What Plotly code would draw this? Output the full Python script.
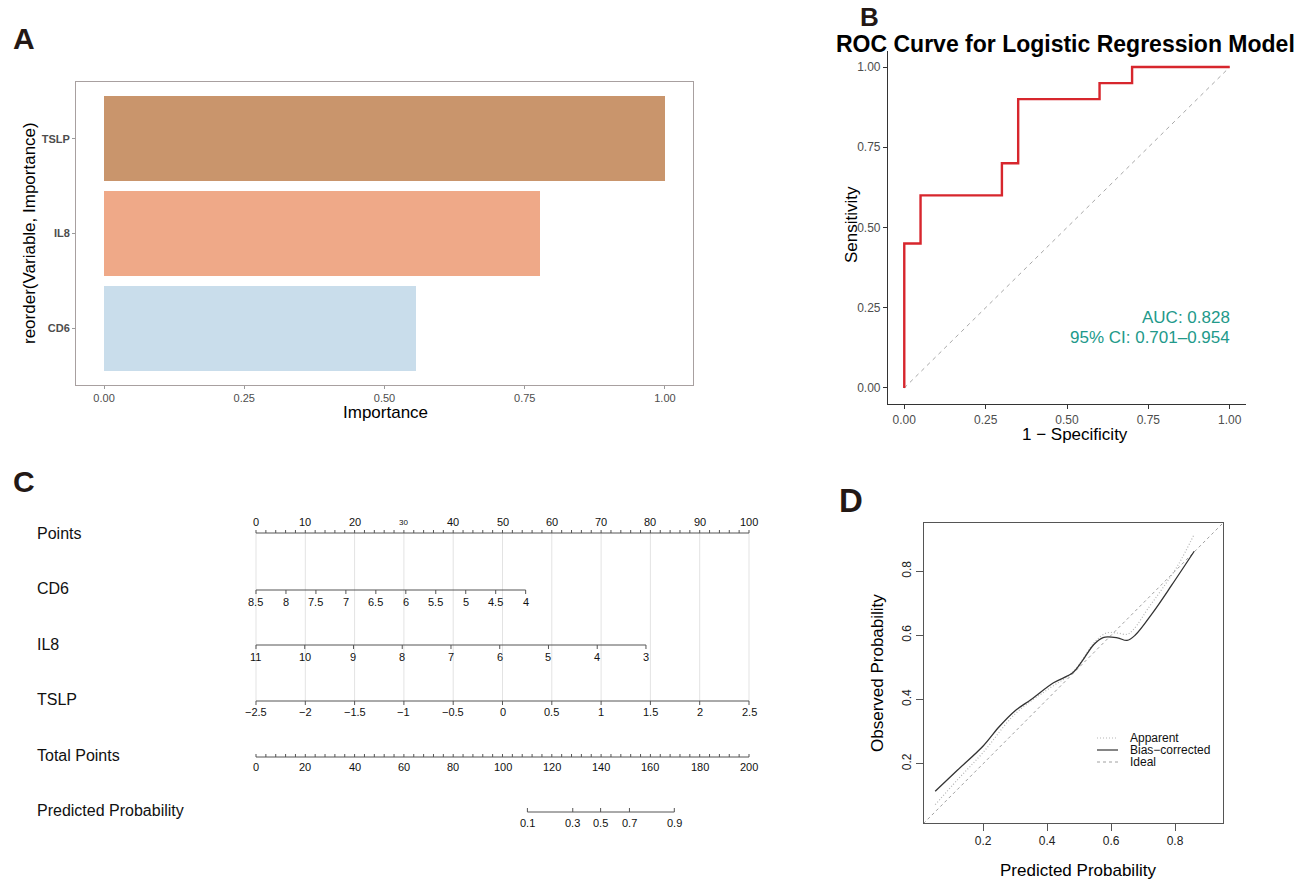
import plotly.graph_objects as go

W, H = 1304, 880
FONT = "Liberation Sans, Arial, Helvetica, sans-serif"


def px(x):
    return x / W


def py(y):
    return 1 - y / H


# ---------------- Panel A data ----------------
imp_vars = ["CD6", "IL8", "TSLP"]
imp_vals = [0.556, 0.778, 1.0]
imp_colors = ["#C9DDEB", "#EFA988", "#C9956C"]
imp_ticks = [0, 0.25, 0.5, 0.75, 1.0]
imp_ticktext = ["0.00", "0.25", "0.50", "0.75", "1.00"]

# ---------------- Panel B data ----------------
roc_fpr = [0, 0, 0.05, 0.30, 0.35, 0.60, 0.70, 1.0]
roc_tpr = [0, 0.45, 0.60, 0.70, 0.90, 0.95, 1.0, 1.0]
diag_x = [0, 1]
diag_y = [0, 1]
roc_ticks = [0, 0.25, 0.5, 0.75, 1.0]
roc_ticktext = ["0.00", "0.25", "0.50", "0.75", "1.00"]
auc_text = "AUC: 0.828"
ci_text = "95% CI: 0.701–0.954"

# ---------------- Panel C data (nomogram) ----------------
points_labels = [0, 10, 20, 30, 40, 50, 60, 70, 80, 90, 100]
points_minor = list(range(0, 101, 2))
cd6_vals = [8.5, 8, 7.5, 7, 6.5, 6, 5.5, 5, 4.5, 4]
cd6_max_points = 54.7
il8_vals = [11, 10, 9, 8, 7, 6, 5, 4, 3]
il8_max_points = 79.1
tslp_vals = [-2.5, -2, -1.5, -1, -0.5, 0, 0.5, 1, 1.5, 2, 2.5]
total_labels = [0, 20, 40, 60, 80, 100, 120, 140, 160, 180, 200]
total_minor = list(range(0, 201, 4))
prob_labels = [0.1, 0.3, 0.5, 0.7, 0.9]
prob_total_points = [110.1, 128.5, 139.8, 151.5, 169.7]
row_names = ["Points", "CD6", "IL8", "TSLP", "Total Points", "Predicted Probability"]

# ---------------- Panel D data (calibration) ----------------
app_x = [0.05, 0.12, 0.20, 0.30, 0.40, 0.48, 0.55, 0.585, 0.62, 0.65, 0.67, 0.72, 0.76, 0.81, 0.86]
app_y = [0.072, 0.15, 0.235, 0.355, 0.43, 0.485, 0.58, 0.607, 0.607, 0.603, 0.618, 0.69, 0.745, 0.82, 0.915]
bias_x = [0.05, 0.12, 0.20, 0.25, 0.30, 0.35, 0.42, 0.48, 0.51, 0.545, 0.575, 0.62, 0.65, 0.675, 0.73, 0.79, 0.86]
bias_y = [0.114, 0.18, 0.255, 0.315, 0.365, 0.40, 0.452, 0.483, 0.52, 0.57, 0.593, 0.592, 0.584, 0.60, 0.67, 0.757, 0.862]
ideal_x = [0, 1]
ideal_y = [0, 1]
cal_ticks = [0.2, 0.4, 0.6, 0.8]
legend_names = ["Apparent", "Bias−corrected", "Ideal"]

fig = go.Figure()
annotations = []
shapes = []

# ================= Panel A =================
fig.add_trace(go.Bar(
    y=imp_vars, x=imp_vals, orientation="h", width=0.9,
    marker=dict(color=imp_colors, line=dict(width=0)),
    xaxis="x", yaxis="y", showlegend=False, hoverinfo="skip"))

# ================= Panel B =================
fig.add_trace(go.Scatter(
    x=diag_x, y=diag_y, mode="lines",
    line=dict(color="#A8A8A8", width=1, dash="4px,4px"),
    xaxis="x2", yaxis="y2", showlegend=False, hoverinfo="skip"))
fig.add_trace(go.Scatter(
    x=roc_fpr, y=roc_tpr, mode="lines", line_shape="hv",
    line=dict(color="#D7262D", width=2.4),
    xaxis="x2", yaxis="y2", showlegend=False, hoverinfo="skip"))

# ================= Panel C (nomogram) =================
ROW_Y = {"Points": 533, "CD6": 590, "IL8": 645, "TSLP": 701, "Total Points": 757, "Predicted Probability": 812}
LABEL_Y = {"Points": 522, "CD6": 602, "IL8": 657, "TSLP": 712, "Total Points": 767, "Predicted Probability": 823}
TITLE_Y = {"Points": 533, "CD6": 588, "IL8": 644, "TSLP": 699, "Total Points": 755, "Predicted Probability": 810}


def fmt(v):
    s = f"{v:g}"
    return s.replace("-", "−")


# gridlines
gx, gy = [], []
for p in points_labels:
    gx += [p, p, None]
    gy += [ROW_Y["Points"], ROW_Y["TSLP"], None]
fig.add_trace(go.Scatter(x=gx, y=gy, mode="lines", line=dict(color="#E3E3E3", width=1),
                         xaxis="x3", yaxis="y3", showlegend=False, hoverinfo="skip"))


def add_row(name, pts, labels, tick_pts, tick_dir, tick_len, label_sizes=None):
    y0 = ROW_Y[name]
    lx = [min(tick_pts), max(tick_pts), None]
    ly = [y0, y0, None]
    for t in tick_pts:
        lx += [t, t, None]
        ly += [y0, y0 + tick_dir * tick_len, None]
    fig.add_trace(go.Scatter(x=lx, y=ly, mode="lines", line=dict(color="#555555", width=1),
                             xaxis="x3", yaxis="y3", showlegend=False, hoverinfo="skip"))
    for i, (p, lab) in enumerate(zip(pts, labels)):
        size = 11 if label_sizes is None else label_sizes[i]
        annotations.append(dict(x=p, y=LABEL_Y[name], xref="x3", yref="y3", text=lab,
                                showarrow=False, xanchor="center", yanchor="middle",
                                font=dict(family=FONT, size=size, color="#111111")))


# Points
add_row("Points", points_labels, [fmt(v) for v in points_labels], points_minor, -1, 3,
        label_sizes=[8 if v == 30 else 11 for v in points_labels])
# CD6
cd6_pts = [(cd6_vals[0] - v) / (cd6_vals[0] - cd6_vals[-1]) * cd6_max_points for v in cd6_vals]
add_row("CD6", cd6_pts, [fmt(v) for v in cd6_vals], cd6_pts, 1, 4)
# IL8
il8_pts = [(il8_vals[0] - v) / (il8_vals[0] - il8_vals[-1]) * il8_max_points for v in il8_vals]
add_row("IL8", il8_pts, [fmt(v) for v in il8_vals], il8_pts, 1, 4)
# TSLP
tslp_pts = [(v - tslp_vals[0]) / (tslp_vals[-1] - tslp_vals[0]) * 100 for v in tslp_vals]
add_row("TSLP", tslp_pts, [fmt(v) for v in tslp_vals], tslp_pts, 1, 4)
# Total points (0-200 drawn on the 0-100 points scale)
add_row("Total Points", [t / 2 for t in total_labels], [fmt(v) for v in total_labels],
        [t / 2 for t in total_minor], -1, 3)
# Predicted probability
prob_pts = [t / 2 for t in prob_total_points]
add_row("Predicted Probability", prob_pts, [fmt(v) for v in prob_labels], prob_pts, -1, 4)

for name in row_names:
    annotations.append(dict(x=px(35), y=py(TITLE_Y[name]), xref="paper", yref="paper", text=name,
                            showarrow=False, xanchor="left", yanchor="middle",
                            font=dict(family=FONT, size=16, color="#111111")))

# ================= Panel D =================
fig.add_trace(go.Scatter(x=ideal_x, y=ideal_y, mode="lines",
                         line=dict(color="#A0A0A0", width=1, dash="3px,3px"),
                         xaxis="x4", yaxis="y4", showlegend=False, hoverinfo="skip"))
fig.add_trace(go.Scatter(x=app_x, y=app_y, mode="lines", line_shape="spline",
                         line=dict(color="#B5B5B5", width=1.2, dash="1px,2px"),
                         xaxis="x4", yaxis="y4", showlegend=False, hoverinfo="skip"))
fig.add_trace(go.Scatter(x=bias_x, y=bias_y, mode="lines", line_shape="spline",
                         line=dict(color="#333333", width=1.3),
                         xaxis="x4", yaxis="y4", showlegend=False, hoverinfo="skip"))

# legend (manual)
leg_styles = [dict(color="#B5B5B5", width=1.2, dash="1px,2px"),
              dict(color="#333333", width=1.2),
              dict(color="#A0A0A0", width=1, dash="3px,3px")]
for i, (nm, st) in enumerate(zip(legend_names, leg_styles)):
    yy = 738 + 12 * i
    shapes.append(dict(type="line", xref="paper", yref="paper", x0=px(1097), x1=px(1118),
                       y0=py(yy), y1=py(yy), line=st))
    annotations.append(dict(x=px(1128), y=py(yy), xref="paper", yref="paper", text=nm,
                            showarrow=False, xanchor="left", yanchor="middle",
                            font=dict(family=FONT, size=12, color="#111111")))


# ================= Text annotations =================
def ann(x, y, text, size, angle=0, bold=False, color="#000000", xanchor="center"):
    annotations.append(dict(x=px(x), y=py(y), xref="paper", yref="paper", text=text,
                            showarrow=False, xanchor=xanchor, yanchor="middle", textangle=angle,
                            font=dict(family=FONT, size=size, color=color,
                                      weight="bold" if bold else "normal")))


# panel letters
ann(24, 38, "A", 30, bold=True, color="#231815")
ann(869, 17, "B", 26, bold=True, color="#231815")
ann(24, 481, "C", 30, bold=True, color="#231815")
ann(851, 500, "D", 33, bold=True, color="#231815")

# Panel A titles
ann(29, 233, "reorder(Variable, Importance)", 17, angle=-90)
ann(385, 413, "Importance", 17)
# Panel B titles
ann(1065, 44, "ROC Curve for Logistic Regression Model", 23, bold=True)
ann(852, 225, "Sensitivity", 17, angle=-90)
ann(1075, 434, "1 − Specificity", 17)
ann(1232, 317, auc_text, 17, color="#22998A", xanchor="right")
ann(1232, 338, ci_text, 17, color="#22998A", xanchor="right")
# Panel D titles
ann(877, 673, "Observed Probability", 17, angle=-90)
ann(1078, 870, "Predicted Probability", 17)

# ================= Layout =================
pC_left = 256 - 2 * 4.93
pC_right = 749 + 2 * 4.93

fig.update_layout(
    width=W, height=H, margin=dict(l=0, r=0, t=0, b=0),
    paper_bgcolor="white", plot_bgcolor="white",
    font=dict(family=FONT),
    bargap=0,
    annotations=annotations, shapes=shapes,
    # Panel A
    xaxis=dict(domain=[px(76), px(693)], anchor="y", range=[-0.05, 1.05],
               tickvals=imp_ticks, ticktext=imp_ticktext, ticks="outside", ticklen=3,
               tickcolor="#9A9A9A", showline=True, mirror=True, linecolor="#A8A0A0", linewidth=1,
               showgrid=False, zeroline=False, tickfont=dict(size=11, color="#4D4D4D")),
    yaxis=dict(domain=[py(385), py(82)], anchor="x", range=[-0.6, 2.6], type="category",
               categoryorder="array", categoryarray=imp_vars,
               ticks="outside", ticklen=3, tickcolor="#9A9A9A", showline=True, mirror=True,
               linecolor="#A8A0A0", linewidth=1, showgrid=False, zeroline=False,
               tickfont=dict(size=11, color="#4D4D4D", weight="bold")),
    # Panel B
    xaxis2=dict(domain=[px(888), px(1246)], anchor="y2", range=[-0.05, 1.05],
                tickvals=roc_ticks, ticktext=roc_ticktext, ticks="outside", ticklen=4,
                tickcolor="#333333", showline=True, mirror=False, linecolor="#333333", linewidth=1.2,
                showgrid=False, zeroline=False, tickfont=dict(size=12, color="#4D4D4D")),
    yaxis2=dict(domain=[py(404), py(51)], anchor="x2", range=[-0.05, 1.05],
                tickvals=roc_ticks, ticktext=roc_ticktext, ticks="outside", ticklen=4,
                tickcolor="#333333", showline=True, mirror=False, linecolor="#333333", linewidth=1.2,
                showgrid=False, zeroline=False, tickfont=dict(size=12, color="#4D4D4D")),
    # Panel C
    xaxis3=dict(domain=[px(pC_left), px(pC_right)], anchor="y3", range=[-2, 102], visible=False),
    yaxis3=dict(domain=[py(840), py(470)], anchor="x3", range=[840, 470], visible=False),
    # Panel D
    xaxis4=dict(domain=[px(924), px(1223)], anchor="y4", range=[0.015, 0.95],
                tickvals=cal_ticks, ticktext=[fmt(v) for v in cal_ticks], ticks="outside", ticklen=7,
                tickcolor="#555555", showline=True, mirror=True, linecolor="#555555", linewidth=1,
                showgrid=False, zeroline=False, tickfont=dict(size=12, color="#222222")),
    yaxis4=dict(domain=[py(823), py(523)], anchor="x4", range=[0.015, 0.95],
                tickvals=cal_ticks, ticktext=[fmt(v) for v in cal_ticks], ticks="outside", ticklen=7,
                tickcolor="#555555", showline=True, mirror=True, linecolor="#555555", linewidth=1,
                showgrid=False, zeroline=False, tickangle=-90, tickfont=dict(size=12, color="#222222")),
)

fig.write_html("out.html")
